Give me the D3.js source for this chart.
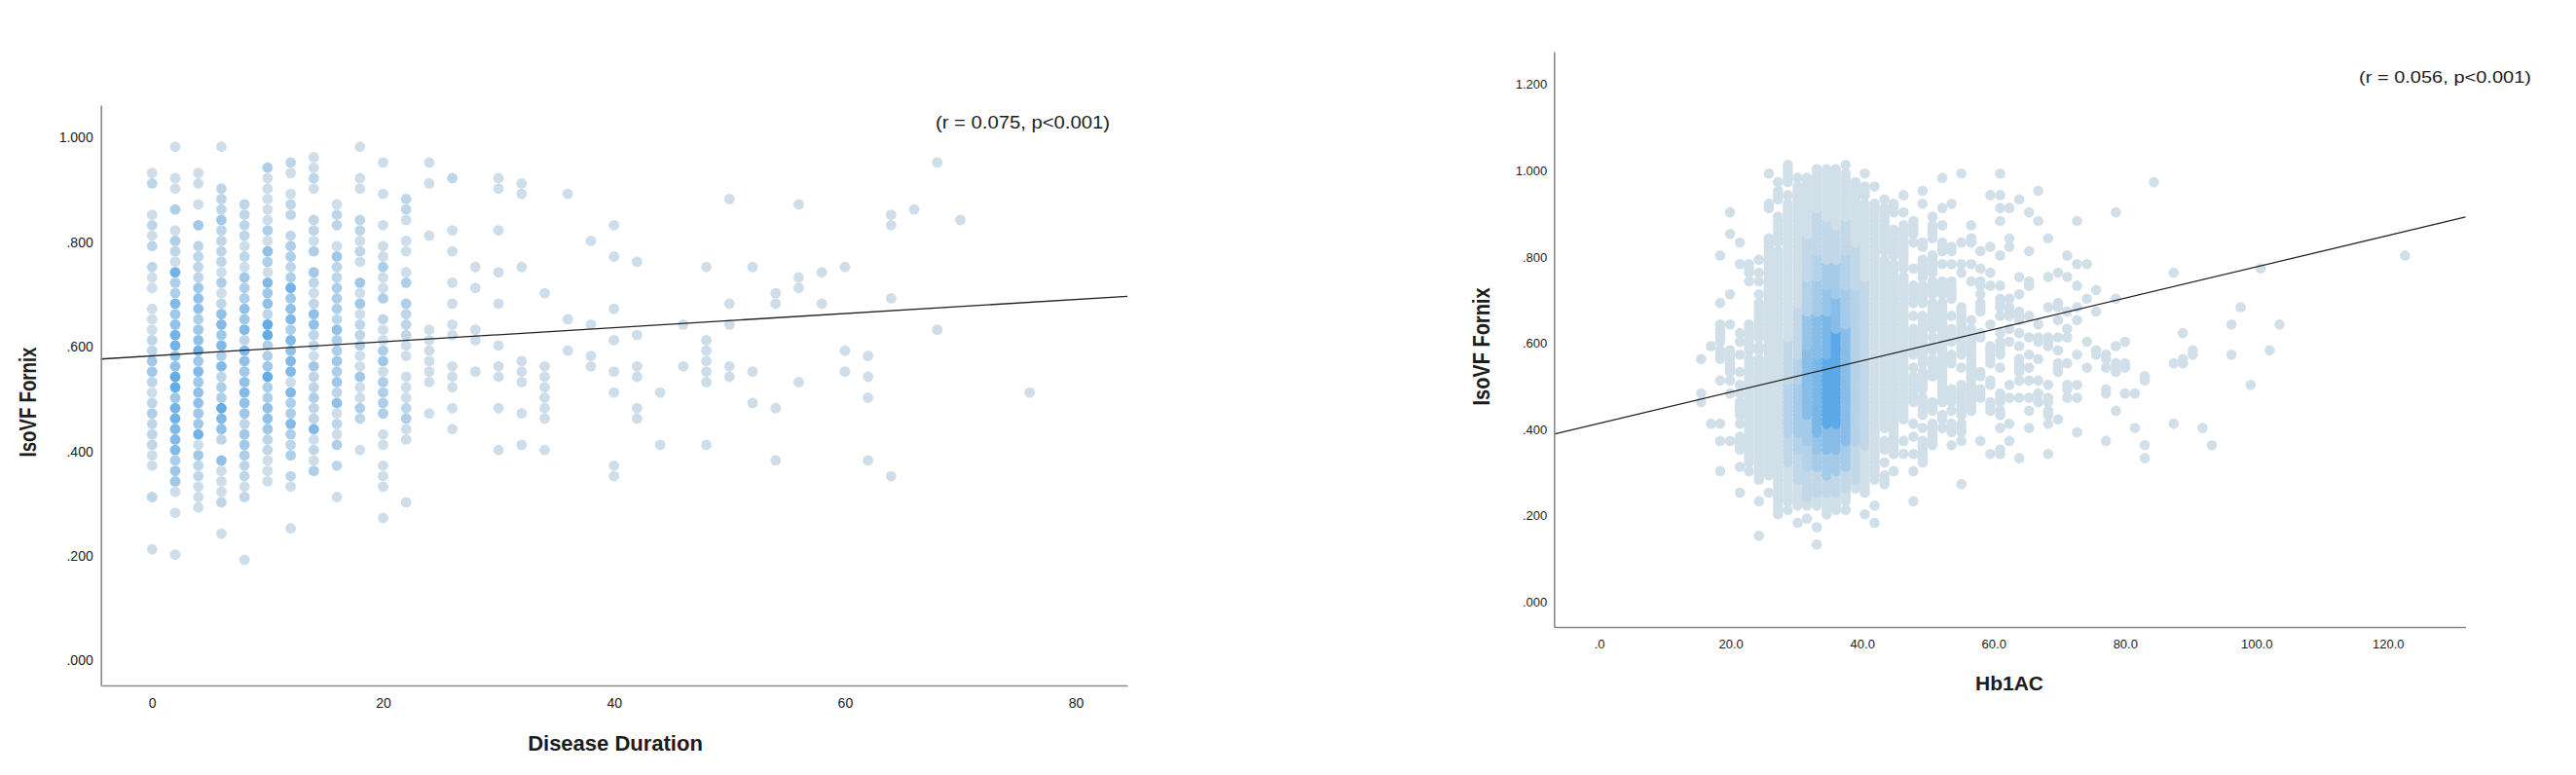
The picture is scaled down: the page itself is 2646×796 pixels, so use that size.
<!DOCTYPE html>
<html>
<head>
<meta charset="utf-8">
<style>
  html, body { margin: 0; padding: 0; background: #fff; }
  svg { display: block; }
  text { font-family: "Liberation Sans", Arial, sans-serif; fill: #1c1c1c; }
</style>
</head>
<body>
<svg id="svg1" width="2646" height="796"></svg>
<script src="https://cdn.jsdelivr.net/npm/d3@7"></script>
<script>
// left panel: one column per duration value, fornix in hundredths, density level 1-8
var durationX = [0,2,4,6,8,10,12,14,16,18,20,22,24,26,28,30,32,34,36,38,40,42,44,46,48,50,52,54,56,58,60,62,64,66,68,70,76];
var durationFornix = [
  [93,91,85,83,81,79,75,73,71,67,65,63,61,59,57,55,53,51,49,47,45,43,41,39,37,31,21],
  [98,92,90,86,82,80,78,76,74,72,70,68,66,64,62,60,58,56,54,52,50,48,46,44,42,40,38,36,34,32,28,20],
  [93,91,87,83,79,77,75,73,71,69,67,65,63,61,59,57,55,53,51,49,47,45,43,41,39,37,35,33,31,29],
  [98,90,88,86,84,82,80,78,76,74,72,70,68,66,64,62,60,58,56,54,52,50,48,46,44,42,38,36,34,32,30,24],
  [87,85,83,81,79,77,75,73,71,69,67,65,63,61,59,57,55,53,51,49,47,45,43,41,39,37,35,33,31,19],
  [94,92,90,88,86,84,82,80,78,76,74,72,70,68,66,64,62,60,58,56,54,52,50,48,46,44,42,40,38,36,34],
  [95,93,89,87,85,81,79,77,75,73,71,69,67,65,63,61,59,57,55,53,51,49,47,45,43,41,39,35,33,25],
  [96,94,92,90,84,82,80,78,74,72,70,68,66,64,62,60,58,56,54,52,50,48,46,44,42,40,38,36],
  [87,85,83,79,77,75,73,71,69,67,65,63,61,59,57,55,53,51,49,47,45,43,41,37,31],
  [98,92,90,84,82,80,78,76,72,70,68,66,64,62,60,58,56,54,52,50,48,46,40],
  [95,89,83,79,77,75,73,71,69,65,63,61,59,57,55,53,51,49,47,43,41,37,35,33,27],
  [88,86,84,80,78,74,72,68,66,64,62,60,58,54,52,50,48,46,44,42,30],
  [95,91,81,63,61,59,57,55,53,47],
  [92,82,78,72,68,64,62,56,54,52,48,44],
  [75,71,63,61,55],
  [92,90,82,74,68,60,56,54,48,40],
  [91,89,75,57,55,53,47,41],
  [70,56,54,52,50,48,46,40],
  [89,65,59],
  [80,64,58,56],
  [83,77,67,61,55,51,37,35],
  [76,62,56,54,48,46],
  [51,41],
  [64,56],
  [75,61,59,57,55,53,41],
  [88,68,64,56,54],
  [75,55,49],
  [70,68,48,38],
  [87,73,71,53],
  [74,68],
  [75,59,55],
  [58,54,50,38],
  [85,83,69,35],
  [86],
  [95,63],
  [84],
  [51]
];
var durationLevels = [
  [1,2,1,2,1,2,2,1,1,1,1,1,2,2,4,4,2,1,2,3,2,2,2,1,1,2,1],
  [1,1,1,3,1,3,2,1,7,3,3,6,4,5,7,7,5,5,8,8,4,7,7,6,6,6,3,4,4,1,1,1],
  [1,1,1,4,2,2,2,2,4,5,5,3,4,5,7,4,6,4,5,5,4,4,7,1,4,2,2,1,1,1],
  [1,2,2,2,4,2,2,2,2,1,3,1,2,5,6,4,6,3,6,2,3,3,8,6,5,2,5,1,1,1,2,1],
  [2,2,2,2,1,2,1,4,3,3,5,4,6,2,6,5,4,5,6,5,4,2,4,4,3,2,2,1,2,1],
  [3,1,1,1,1,1,3,1,5,3,1,6,4,5,2,8,8,3,3,4,8,3,3,5,5,4,2,2,1,1,1],
  [2,1,1,2,2,2,3,3,2,3,7,4,5,6,3,6,5,6,6,1,6,3,3,6,3,2,3,2,1,1],
  [1,1,2,1,2,2,1,3,4,2,1,2,5,5,2,2,1,4,2,2,3,2,2,6,1,2,1,3],
  [1,2,2,1,4,2,2,3,3,3,2,5,3,3,4,3,4,2,5,1,2,1,3,2,1],
  [1,1,1,2,2,1,2,1,4,1,4,1,2,2,3,1,1,4,1,1,3,2,1],
  [1,1,1,1,1,3,1,1,3,2,1,1,3,4,1,3,3,3,3,1,1,1,1,1,1],
  [2,2,1,1,1,1,3,3,2,2,2,1,1,1,1,1,2,3,1,1,1],
  [1,1,1,1,1,1,1,1,1,1],
  [2,1,1,1,1,1,1,1,1,1,1,1]
];
var durationTicks = [0,20,40,60,80];
var durationLineX = [-4.43, 84.46];
var durationLineY = [0.574, 0.694];

// right panel: one column per Hb1AC value, number = single value, [lo,hi] = solid strip
var hbX = [15.5,17.0,18.4,19.9,21.4,22.8,24.3,25.8,27.2,28.7,30.2,31.6,33.1,34.6,36.0,37.5,39.0,40.4,41.9,43.4,44.8,46.3,47.8,49.2,50.7,52.2,53.6,55.1,56.6,58.0,59.5,61.0,62.4,63.9,65.4,66.8,68.3,69.8,71.2,72.7,74.2,75.6,77.1,78.6,80.0,81.5,83.0,84.4,87.4,88.8,90.3,91.8,93.2,96.2,97.6,99.1,100.6,102.0,103.5,122.6];
var hbFornix = [
  [56,48,46],
  [59,41],
  [80,69,[60,64],[56,58],51,41,37,30],
  [90,85,71,64,[53,58],51,48,37],
  [83,78,62,60,57,53,50,48,[43,46],41,[35,38],31,25],
  [[76,78],74,[58,64],[53,56],[32,52],30],
  [79,76,74,71,[61,69],[58,59],[28,56],23,15],
  [99,[91,92],[79,84],[29,78],25],
  [97,[93,95],[83,89],[26,81],[21,25],20],
  [[97,101],94,[23,92],21],
  [98,[22,96],18],
  [[22,98],19],
  [[22,100],17,13],
  [[20,100]],
  [[21,100]],
  [101,[23,99],21],
  [[26,97]],
  [99,[94,96],[25,92],20],
  [96,[28,92],22,18],
  [93,[81,91],[40,79],[35,37],32,[27,29]],
  [[90,92],[80,86],[34,78],30],
  [94,90,[82,87],[77,81],[42,75],37,34],
  [[85,88],83,77,[69,73],66,[57,63],54,[46,52],41,38,34,30,23],
  [95,92,[82,83],[75,79],[69,73],[61,66],[55,60],[50,53],49,[43,47],40,[32,37]],
  [89,[84,87],[76,80],[71,74],[63,69],61,[58,59],[52,56],[44,46],[36,41]],
  [98,91,87,[81,83],78,[72,74],71,[51,69],[46,50],[42,43],40],
  [92,[81,82],78,[70,74],66,[60,63],[55,57],[46,49],44,[39,41],36],
  [99,83,78,76,[57,68],54,[43,50],[39,41],37,27],
  [87,[83,84],78,74,65,[44,63]],
  [81,77,[73,74],71,[67,69],[61,62],[52,53],[47,49],37],
  [94,82,76,73,64,[55,59],[50,51],[44,46],34],
  [99,94,91,88,80,73,[68,70],66,62,[57,60],54,[46,48],[43,44],40,[34,35]],
  [91,84,82,70,[66,68],63,60,50,47,41,37],
  [93,75,71,[65,67],62,59,[53,56],51,47,33],
  [90,81,[73,74],66,61,57,54,51,47,44,40],
  [95,88,64,[60,61],56,51,48,46],
  [84,75,68,[59,61],50,[46,47],[43,44],41,34],
  [76,[68,69],65,61,58,[53,55],42],
  [80,75,67,63,61,55,[49,50],47],
  [88,78,73,68,65,57,50,47,39],
  [78,70,60,54],
  [72,67,58,57],
  [57,56,54,49,48,37],
  [90,70,59,[53,55],44],
  [60,[54,55],48],
  [48,40],
  [[51,52],36,33],
  [97],
  [76,55,41],
  [62,[55,56]],
  [[57,58]],
  [40],
  [36],
  [64,57],
  [68],
  [50],
  [77],
  [58],
  [64],
  [80]
];
// density bands of the crowded columns: [lo, hi, level]
var hbDensityX = [28.7,30.2,31.6,33.1,34.6,36.0,37.5,39.0,40.4];
var hbDensity = [
  [[32,38,1],[38,50,2],[50,60,1]],
  [[28,34,1],[34,38,2],[38,50,3],[50,56,2],[56,68,1]],
  [[24,30,1],[30,36,2],[36,42,3],[42,58,5],[58,66,4],[66,74,2],[74,84,1]],
  [[25,30,1],[30,34,3],[34,38,4],[38,56,6],[56,66,5],[66,74,3],[74,80,2],[80,90,1]],
  [[25,28,1],[28,34,3],[34,40,5],[40,56,8],[56,66,6],[66,72,4],[72,78,3],[78,88,1]],
  [[25,29,1],[29,34,3],[34,40,5],[40,62,8],[62,70,5],[70,78,3],[78,86,1]],
  [[26,30,1],[30,36,3],[36,53,5],[53,63,5],[63,72,3],[72,80,2],[80,88,1]],
  [[28,36,1],[36,72,2],[72,82,1]],
  [[36,74,1]]
];
var hbTicks = [0,20,40,60,80,100,120];
var fornixTicksLeft = [0,0.2,0.4,0.6,0.8,1];
var fornixTicksRight = [0,0.2,0.4,0.6,0.8,1,1.2];
var hbLineX = [-6.87, 131.8];
var hbLineY = [0.386, 0.889];

var svg = d3.select("#svg1");

var fmtY = function(d) { return d3.format(".3f")(d).replace(/^0/, ""); };
var fmtHb = function(d) { return d === 0 ? ".0" : d.toFixed(1); };

var levelColor = d3.scaleLinear().domain([1, 8]).range(["#cddde9", "#62ace8"]);
var hbColor = d3.scaleLinear().domain([0, 8]).range(["#d1dfe9", "#5ca9e8"]);

function panel(opts) {
  var x = d3.scaleLinear().domain(opts.xDomain).range(opts.xRange);
  var y = d3.scaleLinear().domain(opts.yDomain).range(opts.yRange);
  var g = svg.append("g");

  g.append("g").selectAll("circle")
    .data(opts.points)
    .join("circle")
    .attr("cx", function(d) { return x(d.x); })
    .attr("cy", function(d) { return y(d.y); })
    .attr("r", opts.r)
    .attr("fill", function(d) { return d.color; });

  g.append("path")
    .datum(d3.zip(opts.lineX, opts.lineY))
    .attr("fill", "none")
    .attr("stroke", "#222")
    .attr("stroke-width", 1.3)
    .attr("d", d3.line().x(function(d) { return x(d[0]); }).y(function(d) { return y(d[1]); }));

  var xAxis = g.append("g")
    .attr("transform", "translate(0," + opts.yRange[0] + ")")
    .call(d3.axisBottom(x).tickValues(opts.xTicks).tickFormat(opts.xFormat).tickSize(0).tickPadding(opts.xPad));
  var yAxis = g.append("g")
    .attr("transform", "translate(" + opts.xRange[0] + ",0)")
    .call(d3.axisLeft(y).tickValues(opts.yTicks).tickFormat(fmtY).tickSize(0).tickPadding(opts.yPad));
  [xAxis, yAxis].forEach(function(a) {
    a.select(".domain").attr("stroke", "#8a8a8a").attr("stroke-width", 1.6);
    a.selectAll("text").style("font-size", opts.tickSize + "px").style("font-family", "Liberation Sans").attr("fill", "#1c1c1c");
  });
  yAxis.selectAll(".tick text").attr("y", 1.5);

  g.append("text")
    .attr("x", opts.xTitle[0]).attr("y", opts.xTitle[1])
    .attr("text-anchor", "middle").attr("font-size", opts.titleSize).attr("font-weight", "bold")
    .text(opts.xLabel);
  g.append("text")
    .attr("transform", "translate(" + opts.yTitle[0] + "," + opts.yTitle[1] + ") rotate(-90)")
    .attr("text-anchor", "middle").attr("font-size", 23).attr("font-weight", "bold")
    .attr("textLength", opts.yTitle[2]).attr("lengthAdjust", "spacingAndGlyphs")
    .text("IsoVF Fornix");
  g.append("text")
    .attr("x", opts.note[0]).attr("y", opts.note[1])
    .attr("font-size", opts.noteSize).attr("fill", "#333")
    .attr("textLength", opts.note[2]).attr("lengthAdjust", "spacingAndGlyphs")
    .text(opts.noteText);
}

var durationPoints = [];
durationX.forEach(function(dx, i) {
  durationFornix[i].forEach(function(v, j) {
    var lev = durationLevels[i] ? durationLevels[i][j] : 1;
    durationPoints.push({x: dx, y: v / 100, color: levelColor(lev)});
  });
});

function bandLevel(hx, v) {
  var idx = hbDensityX.indexOf(hx);
  if (idx < 0) return 0;
  var b = hbDensity[idx].find(function(r) { return v >= r[0] && v <= r[1]; });
  return b ? b[2] : 0;
}

var hbPoints = [];
hbX.forEach(function(hx, i) {
  hbFornix[i].forEach(function(e) {
    var vals = Array.isArray(e) ? d3.range(e[0], e[1] + 1) : [e];
    vals.forEach(function(v) {
      hbPoints.push({x: hx, y: v / 100, color: hbColor(bandLevel(hx, v))});
    });
  });
});

panel({
  xDomain: [-4.43, 84.46], xRange: [103.7, 1158],
  yDomain: [-0.0503, 1.0596], yRange: [704, 108],
  points: durationPoints, r: 5.4,
  lineX: durationLineX, lineY: durationLineY,
  xTicks: durationTicks, xFormat: d3.format("d"), yTicks: fornixTicksLeft,
  xPad: 13, yPad: 8, tickSize: 14,
  xLabel: "Disease Duration", xTitle: [632, 771], yTitle: [37, 413, 113], titleSize: 22,
  note: [961, 132, 179], noteSize: 18, noteText: "(r = 0.075, p<0.001)"
});

panel({
  xDomain: [-6.87, 131.8], xRange: [1596.3, 2532.5],
  yDomain: [-0.0614, 1.2727], yRange: [644, 53],
  points: hbPoints, r: 5.3,
  lineX: hbLineX, lineY: hbLineY,
  xTicks: hbTicks, xFormat: fmtHb, yTicks: fornixTicksRight,
  xPad: 13, yPad: 7, tickSize: 13,
  xLabel: "Hb1AC", xTitle: [2064, 709], yTitle: [1530, 356, 121], titleSize: 21,
  note: [2423, 85, 177], noteSize: 17, noteText: "(r = 0.056, p<0.001)"
});
</script>
</body>
</html>
